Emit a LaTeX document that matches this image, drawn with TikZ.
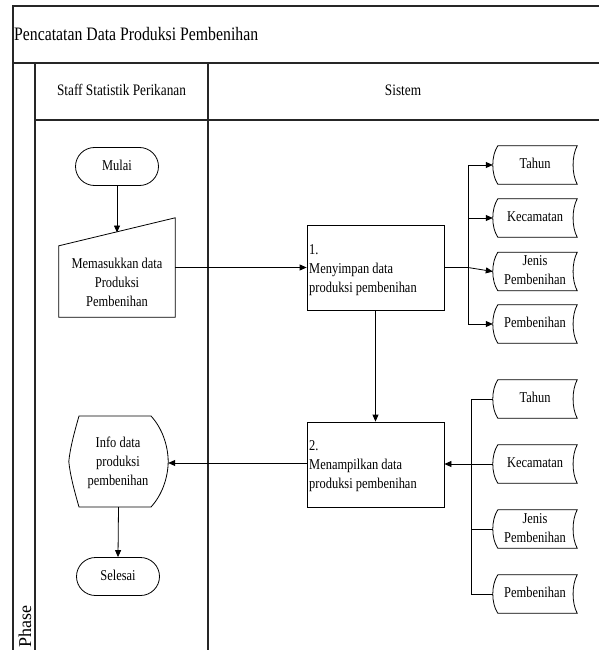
\documentclass[tikz,border=0pt]{standalone}
\usepackage{fontspec}
\usepackage{graphicx}
\setmainfont{Liberation Serif}
\usetikzlibrary{arrows.meta,calc}
\newcommand\sqc[1]{\scalebox{0.83}[1]{\begin{tabular}{@{}c@{}}#1\end{tabular}}}
\newcommand\sql[1]{\scalebox{0.83}[1]{\begin{tabular}{@{}l@{}}#1\end{tabular}}}
\tikzset{
  lane/.style={draw, line width=1.1pt, black!85},
  shp/.style={draw, line width=0.8pt, black},
  conn/.style={draw, line width=0.8pt, black},
  flow/.style={draw, line width=0.8pt, black, -{Triangle[length=7pt,width=6pt]}},
  body/.style={font=\fontsize{15}{19}\selectfont},
  term/.style={draw, line width=0.8pt, rounded corners=19pt, minimum width=83pt, minimum height=38pt, inner sep=0pt, body},
  box/.style={draw, line width=0.8pt, minimum width=137pt, minimum height=85pt, inner sep=0pt},
  ptxt/.style={body, inner sep=0pt, anchor=west},
  storebox/.style={minimum width=84pt, minimum height=38pt, inner sep=0pt, font=\fontsize{15}{19}\selectfont},
}
\newcommand\mkstore[4]{%
  \node[storebox] (#1) at (#2,#3) {\sqc{#4}};
  \draw[shp] ($(#1.north west)+(5,0)$) -- (#1.north east)
     .. controls ($(#1.north east)+(-5.5,10)$) and ($(#1.south east)+(-5.5,-10)$) .. (#1.south east)
     -- ($(#1.south west)+(5,0)$)
     .. controls ($(#1.south west)+(-1.7,-10)$) and ($(#1.north west)+(-1.7,10)$) .. cycle;
}
\begin{document}
\begin{tikzpicture}[x=1pt,y=-1pt]
\useasboundingbox (0,0) rectangle (599,650);
% swimlane frame
\draw[lane] (599,6) -- (13,6) -- (13,650);
\draw[lane] (13,63) -- (599,63);
\draw[lane] (35,63) -- (35,650);
\draw[lane] (208,63) -- (208,650);
\draw[lane] (35,120) -- (599,120);
\node[anchor=west, inner sep=0pt, font=\fontsize{19}{22}\selectfont] (title) at (14,36) {\sql{Pencatatan Data Produksi Pembenihan}};
\node[font=\fontsize{16}{19}\selectfont] (h1) at (121.5,92) {\sqc{Staff Statistik Perikanan}};
\node[font=\fontsize{16}{19}\selectfont] (h2) at (403,92) {\sqc{Sistem}};
\node[rotate=90, anchor=east, inner sep=0pt, font=\fontsize{18}{20}\selectfont] (phase) at (25,605) {Phase};

% staff lane
\node[term] (start) at (117,166.5) {\sqc{Mulai}};
\node[minimum width=116pt, minimum height=99pt, inner sep=0pt] (inp) at (117,267.5) {};
\draw[shp] (inp.south west) -- (inp.south east) -- (inp.north east) -- ($(inp.north west)+(0,28)$) -- cycle;
\node[body, inner sep=0pt] (inptxt) at (117,284) {\sqc{Memasukkan data\\Produksi\\Pembenihan}};
\coordinate (inslope) at (117,232.5);
\draw[flow] (start.south) -- (inslope);

% process 1
\node[box] (p1) at (375.5,267.5) {};
\node[ptxt] (p1txt) at (309,270) {\sql{1.\\Menyimpan data\\produksi pembenihan}};
\draw[flow] (inp.east) -- (inp.east -| p1.west);

% upper stores
\mkstore{s1}{535}{165}{Tahun}
\mkstore{s2}{535}{218}{Kecamatan}
\mkstore{s3}{535}{271.5}{Jenis\\Pembenihan}
\mkstore{s4}{535}{324}{Pembenihan}
\coordinate (j1) at (468,267.5);
\draw[conn] (p1.east) -- (j1);
\draw[conn] (j1 |- s1.west) -- (j1 |- s4.west);
\draw[flow] (j1 |- s1.west) -- (s1.west);
\draw[flow] (j1 |- s2.west) -- (s2.west);
\draw[flow] (j1) -- (s3.west);
\draw[flow] (j1 |- s4.west) -- (s4.west);

% process 2
\node[box] (p2) at (375.5,464.5) {};
\node[ptxt] (p2txt) at (309,466) {\sql{2.\\Menampilkan data\\produksi pembenihan}};
\draw[flow] (p1.south) -- (p2.north);

% lower stores
\mkstore{t1}{535}{399}{Tahun}
\mkstore{t2}{535}{464}{Kecamatan}
\mkstore{t3}{535}{529}{Jenis\\Pembenihan}
\mkstore{t4}{535}{594}{Pembenihan}
\coordinate (j2) at (471,464);
\draw[conn] (j2 |- t1.west) -- (j2 |- t4.west);
\draw[conn] (t1.west) -- (j2 |- t1.west);
\draw[conn] (t2.west) -- (j2);
\draw[conn] (t3.west) -- (j2 |- t3.west);
\draw[conn] (t4.west) -- (j2 |- t4.west);
\draw[flow] (j2) -- (j2 -| p2.east);

% display
\node[minimum width=99pt, minimum height=91pt, inner sep=0pt] (disp) at (118.5,461.5) {};
\draw[shp] (79,416) -- (151,416)
   .. controls (162,428) and (168,445) .. (disp.east)
   .. controls (168,478) and (162,495) .. (151,507)
   -- (79,507)
   .. controls (75,493) and (70,475) .. (disp.west)
   .. controls (70,448) and (75,430) .. cycle;
\node[body, inner sep=0pt] (disptxt) at (118,463) {\sqc{Info data\\produksi\\pembenihan}};
\draw[flow] (p2.west |- 463,463) -- (disp.east |- 463,463);

% end
\node[term] (end) at (118,576.5) {\sqc{Selesai}};
\draw[flow] (disp.south) -- (end.north);
\end{tikzpicture}
\end{document}
